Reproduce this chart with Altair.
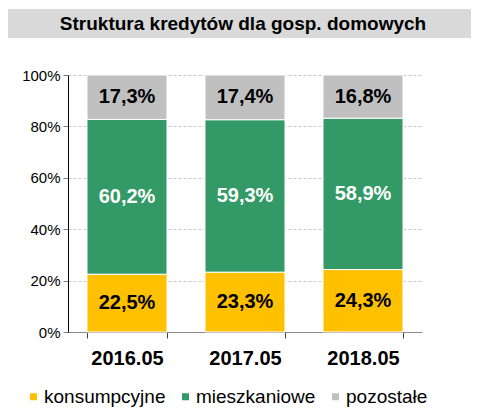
import altair as alt
import pandas as pd

title_text = "Struktura kredytów dla gosp. domowych"
categories = ["2016.05", "2017.05", "2018.05"]
series = ["konsumpcyjne", "mieszkaniowe", "pozostałe"]
konsumpcyjne = [22.5, 23.3, 24.3]
mieszkaniowe = [60.2, 59.3, 58.9]
pozostale = [17.3, 17.4, 16.8]
colors = ["#FFC000", "#339966", "#C0C0C0"]
label_colors = ["#000000", "#FFFFFF", "#000000"]

rows = []
for s_i, (name, vals) in enumerate(zip(series, [konsumpcyjne, mieszkaniowe, pozostale])):
    for c, v in zip(categories, vals):
        rows.append({
            "cat": c,
            "series": name,
            "order": s_i,
            "value": v / 100.0,
            "label": f"{v:.1f}%".replace(".", ","),
            "tc": label_colors[s_i],
        })
df = pd.DataFrame(rows)

FONT = "Liberation Sans, Arial, sans-serif"

base = alt.Chart(df).transform_stack(
    stack="value", as_=["y0", "y1"], groupby=["cat"], sort=[alt.SortField("order")]
).transform_calculate(mid="(datum.y0 + datum.y1) / 2")

x_enc = alt.X(
    "cat:N",
    sort=categories,
    title=None,
    scale=alt.Scale(paddingInner=0.322, paddingOuter=0.161),
    axis=alt.Axis(
        labelAngle=0, labelFontSize=20, labelFontWeight="bold", labelFont=FONT,
        labelColor="#000000", labelPadding=10, tickSize=6, tickBand="extent",
        tickColor="#404040", domainColor="#888888", grid=False,
    ),
)

bars = base.mark_bar(stroke="white", strokeWidth=1).encode(
    x=x_enc,
    y=alt.Y(
        "y0:Q",
        title=None,
        scale=alt.Scale(domain=[0, 1], nice=False),
        axis=alt.Axis(
            values=[0, 0.2, 0.4, 0.6, 0.8, 1.0], format=".0%",
            labelFontSize=15, labelFont=FONT, labelColor="#000000",
            labelPadding=3, tickSize=5, tickColor="#808080",
            domainColor="#000000", grid=True, gridColor="#C8C8C8",
            gridDash=[3, 2], gridWidth=1,
        ),
    ),
    y2="y1:Q",
    color=alt.Color(
        "series:N",
        scale=alt.Scale(domain=series, range=colors),
        legend=alt.Legend(
            title=None, orient="none", direction="horizontal",
            legendX=-44, legendY=312, symbolType="square", symbolSize=49,
            symbolStrokeWidth=0, labelFontSize=19, labelFont=FONT,
            labelColor="#000000", columnPadding=10, labelOffset=1,
            labelLimit=300,
        ),
    ),
    order=alt.Order("order:Q"),
)

labels = base.mark_text(fontSize=20, fontWeight="bold", font=FONT, baseline="middle").encode(
    x=alt.X("cat:N", sort=categories),
    y=alt.Y("mid:Q"),
    text="label:N",
    color=alt.Color("tc:N", scale=None),
)

tdf = pd.DataFrame({"t": [title_text]})
title_box = alt.Chart(tdf).mark_rect(color="#D9D9D9").encode(
    x=alt.value(-60), x2=alt.value(411), y=alt.value(-66), y2=alt.value(-37)
)
title_lbl = alt.Chart(tdf).mark_text(
    fontSize=19, fontWeight="bold", font=FONT, color="#000000", baseline="middle", align="center"
).encode(text="t:N", x=alt.value(175), y=alt.value(-51))

chart = alt.layer(title_box, title_lbl, bars, labels).resolve_scale(color="independent").properties(
    width=354,
    height=257,
    autosize=alt.AutoSizeParams(type="none"),
    padding={"left": 60, "top": 67, "right": 49, "bottom": 90},
).configure_view(strokeWidth=0)

chart.save("out.html", embed_options={"renderer": "svg", "actions": False})
